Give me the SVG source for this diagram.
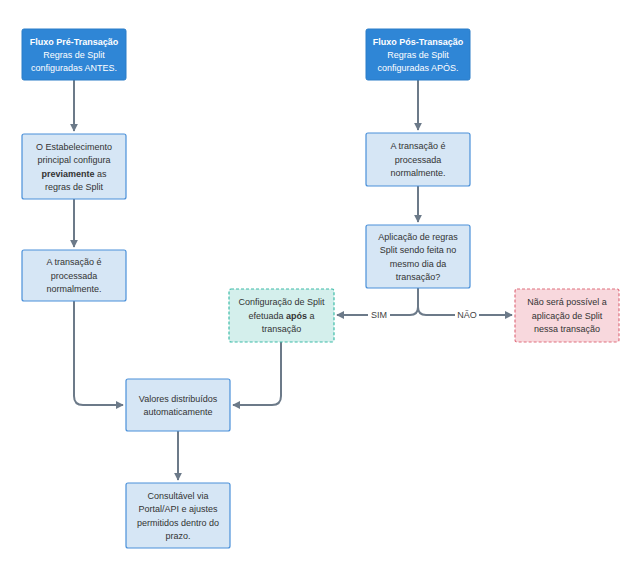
<svg xmlns="http://www.w3.org/2000/svg" width="639" height="574" viewBox="0 0 639 574">
<style>
text{font-family:"Liberation Sans","DejaVu Sans",sans-serif;font-size:9px;fill:#333;text-anchor:middle}
.hd rect{fill:#2f86d6;stroke:#2a7cc8;stroke-width:1}
.hd text{fill:#fff}
.b{font-weight:bold}
.n rect{fill:#d6e6f5;stroke:#4a90d9;stroke-width:1.2}
.g rect{fill:#d4efec;stroke:#3cbca8;stroke-width:1.2;stroke-dasharray:3 2}
.p rect{fill:#f8d8dd;stroke:#e0707f;stroke-width:1.2;stroke-dasharray:3 2}
.c path{fill:none;stroke:#6c7a89;stroke-width:2}
.lbl{fill:#444}
</style>
<defs>
<marker id="ah" viewBox="0 0 10 10" refX="9" refY="5" markerWidth="4" markerHeight="4" orient="auto">
<path d="M0,0 L10,5 L0,10 z" fill="#6c7a89"/>
</marker>
</defs>
<rect width="639" height="574" fill="#fff"/>
<g id="connectors" class="c">
<path d="M74,80 V131" marker-end="url(#ah)"/>
<path d="M74,199 V247" marker-end="url(#ah)"/>
<path d="M418,80 V130" marker-end="url(#ah)"/>
<path d="M418,186 V222" marker-end="url(#ah)"/>
<path d="M418,288 V307 Q418,315 410,315 H337" marker-end="url(#ah)"/>
<path d="M418,307 Q418,315 426,315 H512" marker-end="url(#ah)"/>
<path d="M74,301 V396 Q74,405 83,405 H123" marker-end="url(#ah)"/>
<path d="M281,342 V396 Q281,405 272,405 H233" marker-end="url(#ah)"/>
<path d="M178,431 V480" marker-end="url(#ah)"/>
<rect x="368" y="309" width="22" height="12" fill="#fff"/>
<text x="379" y="318.2" class="lbl">SIM</text>
<rect x="455" y="309" width="24" height="12" fill="#fff"/>
<text x="467" y="318.2" class="lbl">NÃO</text>
</g>
<g id="pre" class="hd">
<rect x="22" y="29" width="104" height="51" rx="2"/>
<text x="74" y="44.7" class="b">Fluxo Pré-Transação</text>
<text x="74" y="57.7">Regras de Split</text>
<text x="74" y="70.7">configuradas ANTES.</text>
</g>
<g id="pos" class="hd">
<rect x="366" y="29" width="104" height="51" rx="2"/>
<text x="418" y="44.7" class="b">Fluxo Pós-Transação</text>
<text x="418" y="57.7">Regras de Split</text>
<text x="418" y="70.7">configuradas APÓS.</text>
</g>
<g id="estab" class="n">
<rect x="22" y="134" width="104" height="65" rx="2"/>
<text x="74" y="149.5">O Estabelecimento</text>
<text x="74" y="163">principal configura</text>
<text x="74" y="176.5"><tspan class="b">previamente</tspan> as</text>
<text x="74" y="190">regras de Split</text>
</g>
<g id="trans1" class="n">
<rect x="22" y="250" width="104" height="51" rx="2"/>
<text x="74" y="265.2">A transação é</text>
<text x="74" y="278.7">processada</text>
<text x="74" y="292.2">normalmente.</text>
</g>
<g id="trans2" class="n">
<rect x="366" y="133" width="104" height="53" rx="2"/>
<text x="418" y="149.2">A transação é</text>
<text x="418" y="162.7">processada</text>
<text x="418" y="176.2">normalmente.</text>
</g>
<g id="decisao" class="n">
<rect x="366" y="225" width="104" height="63" rx="2"/>
<text x="418" y="239.5">Aplicação de regras</text>
<text x="418" y="253">Split sendo feita no</text>
<text x="418" y="266.5">mesmo dia da</text>
<text x="418" y="280">transação?</text>
</g>
<g id="sim" class="g">
<rect x="229" y="289" width="105" height="53" rx="2"/>
<text x="281.5" y="305.2">Configuração de Split</text>
<text x="281.5" y="318.7">efetuada <tspan class="b">após</tspan> a</text>
<text x="281.5" y="332.2">transação</text>
</g>
<g id="nao" class="p">
<rect x="515" y="289" width="104" height="53" rx="2"/>
<text x="567" y="305.2">Não será possível a</text>
<text x="567" y="318.7">aplicação de Split</text>
<text x="567" y="332.2">nessa transação</text>
</g>
<g id="valores" class="n">
<rect x="126" y="379" width="104" height="52" rx="2"/>
<text x="178" y="401.5">Valores distribuídos</text>
<text x="178" y="415">automaticamente</text>
</g>
<g id="consulta" class="n">
<rect x="126" y="483" width="104" height="65" rx="2"/>
<text x="178" y="498.5">Consultável via</text>
<text x="178" y="512">Portal/API e ajustes</text>
<text x="178" y="525.5">permitidos dentro do</text>
<text x="178" y="539">prazo.</text>
</g>
</svg>
